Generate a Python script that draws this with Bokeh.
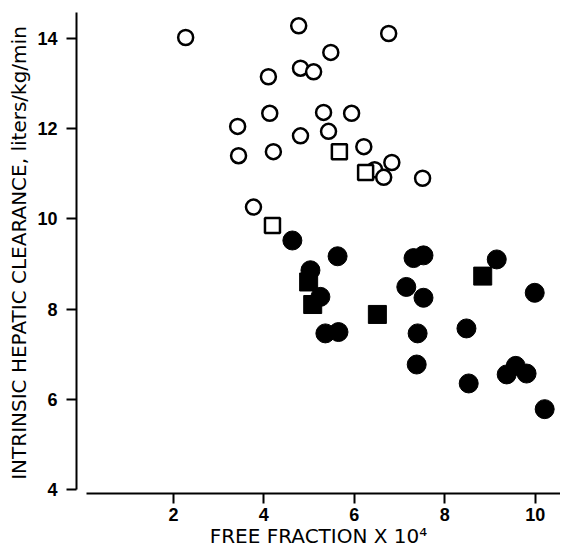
from bokeh.plotting import figure
from bokeh.embed import file_html
from bokeh.resources import INLINE
from bokeh.models import FixedTicker

# Open circles
oc_x = [2.27, 4.77, 6.76, 5.48, 4.81, 5.10, 4.10, 4.13, 5.32, 5.94, 3.42, 4.81, 5.43,
        3.44, 4.21, 6.21, 6.83, 6.45, 6.65, 7.51, 3.77]
oc_y = [14.02, 14.28, 14.11, 13.69, 13.34, 13.26, 13.15, 12.34, 12.36, 12.34, 12.05, 11.84, 11.94,
        11.40, 11.49, 11.60, 11.25, 11.09, 10.92, 10.90, 10.26]
# Open squares
os_x = [5.67, 6.25, 4.19]
os_y = [11.49, 11.03, 9.85]
# Filled circles
fc_x = [4.63, 5.63, 5.03, 5.25, 5.36, 5.65, 7.31, 7.53, 7.15, 7.53, 7.40, 7.38,
        9.15, 9.99, 8.48, 8.53, 9.37, 9.57, 9.81, 10.21]
fc_y = [9.52, 9.17, 8.86, 8.27, 7.46, 7.49, 9.13, 9.19, 8.49, 8.25, 7.46, 6.77,
        9.10, 8.36, 7.57, 6.35, 6.55, 6.74, 6.57, 5.78]
# Filled squares
fs_x = [4.99, 5.08, 6.51, 8.84]
fs_y = [8.60, 8.10, 7.88, 8.73]

x_ticks = [2, 4, 6, 8, 10]
y_ticks = [4, 6, 8, 10, 12, 14]

p = figure(width=560, height=550, output_backend="svg", toolbar_location=None,
           x_range=(-0.144, 10.56), y_range=(3.91, 14.575),
           min_border_left=76, min_border_right=0, min_border_top=12, min_border_bottom=55)
p.outline_line_color = None
p.xgrid.visible = False
p.ygrid.visible = False

p.scatter(oc_x, oc_y, marker="circle", size=15, fill_color="white", line_color="black", line_width=2.5)
p.scatter(os_x, os_y, marker="square", size=15, fill_color="white", line_color="black", line_width=2.5)
p.scatter(fc_x, fc_y, marker="circle", size=19, fill_color="black", line_color="black")
p.scatter(fs_x, fs_y, marker="square", size=18, fill_color="black", line_color="black")

for ax in (p.xaxis[0], p.yaxis[0]):
    ax.axis_line_width = 2
    ax.axis_line_color = "black"
    ax.major_tick_line_width = 2
    ax.major_tick_in = 0
    ax.major_tick_out = 10
    ax.minor_tick_line_color = None
    ax.major_label_text_font = "Liberation Sans"
    ax.major_label_text_font_style = "bold"
    ax.major_label_text_font_size = "18px"
    ax.major_label_text_color = "black"
    ax.axis_label_text_font = "DejaVu Sans"
    ax.axis_label_text_font_style = "normal"
    ax.axis_label_text_color = "black"

p.xaxis[0].axis_label_text_font_size = "20px"
p.yaxis[0].axis_label_text_font_size = "20px"
p.xaxis[0].ticker = FixedTicker(ticks=x_ticks)
p.yaxis[0].ticker = FixedTicker(ticks=y_ticks)
p.xaxis[0].bounds = (0.08, 10.56)
p.yaxis[0].bounds = (4, 14.575)
p.xaxis[0].axis_label = "FREE FRACTION X 10\u2074"
p.yaxis[0].axis_label = "INTRINSIC HEPATIC CLEARANCE, liters/kg/min"
p.xaxis[0].major_label_standoff = 4
p.yaxis[0].major_label_standoff = 9
p.xaxis[0].axis_label_standoff = 0
p.yaxis[0].axis_label_standoff = 3

open("out.html", "w").write(file_html(p, INLINE))
